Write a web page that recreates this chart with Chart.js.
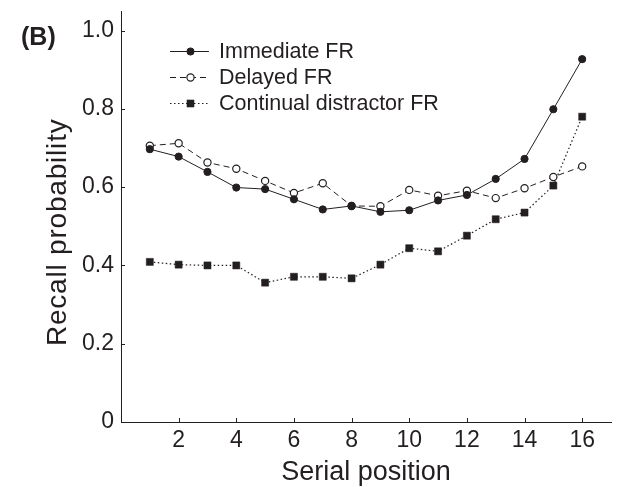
<!DOCTYPE html>
<html>
<head>
<meta charset="utf-8">
<script src="https://cdn.jsdelivr.net/npm/chart.js@4.4.1/dist/chart.umd.min.js"></script>
<style>
  body { margin: 0; background: #fff; }
  #wrap { width: 618px; height: 487px; }
</style>
</head>
<body>
<div id="wrap"><canvas id="myChart" width="618" height="487"></canvas></div>
<script>
// serial positions and recall probabilities
const positions = [1, 2, 3, 4, 5, 6, 7, 8, 9, 10, 11, 12, 13, 14, 15, 16]
const immediateFR = [0.697, 0.678, 0.639, 0.599, 0.595, 0.569, 0.543, 0.552, 0.537, 0.541, 0.566, 0.580, 0.621, 0.672, 0.799, 0.927]
const delayedFR = [0.706, 0.712, 0.663, 0.647, 0.616, 0.585, 0.610, 0.552, 0.551, 0.593, 0.578, 0.591, 0.572, 0.597, 0.626, 0.653]
const continualFR = [0.409, 0.402, 0.400, 0.400, 0.356, 0.371, 0.371, 0.367, 0.402, 0.444, 0.436, 0.476, 0.518, 0.535, 0.604, 0.780]
const seriesNames = ["Immediate FR", "Delayed FR", "Continual distractor FR"]
const xTicks = [2, 4, 6, 8, 10, 12, 14, 16]
const yTicks = [0, 0.2, 0.4, 0.6, 0.8, 1.0]

const ink = "#231f20"
const font = "'Liberation Sans', Arial, sans-serif"

function toPoints(values) {
  return positions.map((p, i) => ({ x: p, y: values[i] }))
}

// marker drawn the same way in the legend
function drawMarker(ctx, ds, x, y) {
  ctx.save()
  ctx.setLineDash([])
  ctx.lineWidth = ds.pointBorderWidth
  ctx.strokeStyle = ds.pointBorderColor
  ctx.fillStyle = ds.pointBackgroundColor
  ctx.beginPath()
  if (ds.pointStyle === "rect") {
    const s = Math.SQRT1_2 * ds.pointRadius
    ctx.rect(x - s, y - s, 2 * s, 2 * s)
  } else {
    ctx.arc(x, y, ds.pointRadius, 0, Math.PI * 2)
  }
  ctx.fill()
  ctx.stroke()
  ctx.restore()
}

const decor = {
  id: "decor",
  afterDraw(chart) {
    const ctx = chart.ctx
    const xs = chart.scales.x
    const ys = chart.scales.y
    const area = chart.chartArea
    ctx.save()
    // inward tick marks
    ctx.strokeStyle = ink
    ctx.lineWidth = 1
    ctx.beginPath()
    xTicks.forEach(t => {
      const px = Math.round(xs.getPixelForValue(t)) + 0.5
      ctx.moveTo(px, area.bottom)
      ctx.lineTo(px, area.bottom - 4)
    })
    yTicks.slice(1).forEach(t => {
      const py = Math.round(ys.getPixelForValue(t)) + 0.5
      ctx.moveTo(area.left, py)
      ctx.lineTo(area.left + 4, py)
    })
    ctx.stroke()

    ctx.fillStyle = ink
    // panel label
    ctx.font = "bold 25px " + font
    ctx.textAlign = "left"
    ctx.textBaseline = "alphabetic"
    ctx.fillText("(B)", 21, 45)

    // axis titles
    ctx.font = "27px " + font
    ctx.textAlign = "center"
    ctx.fillText("Serial position", (area.left + area.right) / 2, 480)
    ctx.save()
    ctx.translate(66, (ys.getPixelForValue(0) + ys.getPixelForValue(1)) / 2 + 6)
    ctx.rotate(-Math.PI / 2)
    ctx.font = "28px " + font
    ctx.letterSpacing = "0.8px"
    ctx.fillText("Recall probability", 0, 0)
    ctx.restore()

    // legend
    ctx.font = "21.5px " + font
    ctx.textAlign = "left"
    ctx.textBaseline = "middle"
    chart.data.datasets.forEach((ds, i) => {
      const y = 51 + i * 26
      ctx.save()
      ctx.strokeStyle = ds.borderColor
      ctx.lineWidth = ds.borderWidth
      ctx.setLineDash(ds.borderDash || [])
      ctx.beginPath()
      ctx.moveTo(170, y + 0.5)
      ctx.lineTo(209, y + 0.5)
      ctx.stroke()
      ctx.restore()
      drawMarker(ctx, ds, 190.5, y + 0.5)
      ctx.fillText(ds.label, 219, y + 1)
    })
    ctx.restore()
  }
}

const ctx = document.getElementById('myChart')
new Chart(ctx, {
  type: 'line',
  data: {
    datasets: [{
      label: seriesNames[0],
      data: toPoints(immediateFR),
      borderColor: ink,
      borderWidth: 1,
      pointStyle: 'circle',
      pointRadius: 3.6,
      pointBorderWidth: 1,
      pointBackgroundColor: ink,
      pointBorderColor: ink
    }, {
      label: seriesNames[1],
      data: toPoints(delayedFR),
      borderColor: ink,
      borderWidth: 1,
      borderDash: [6, 4],
      pointStyle: 'circle',
      pointRadius: 3.6,
      pointBorderWidth: 1.2,
      pointBackgroundColor: '#fff',
      pointBorderColor: ink
    }, {
      label: seriesNames[2],
      data: toPoints(continualFR),
      borderColor: ink,
      borderWidth: 1.2,
      borderDash: [1.5, 2.5],
      pointStyle: 'rect',
      pointRadius: 5,
      pointBorderWidth: 0.5,
      pointBackgroundColor: ink,
      pointBorderColor: ink
    }]
  },
  options: {
    responsive: false,
    animation: false,
    layout: { padding: { left: 0, top: 11, right: 7, bottom: 0 } },
    plugins: {
      legend: { display: false },
      tooltip: { enabled: false }
    },
    scales: {
      x: {
        type: 'linear',
        min: 0,
        max: 17,
        afterBuildTicks: s => { s.ticks = xTicks.map(v => ({ value: v })) },
        afterFit: s => { s.height = 65; s.paddingLeft = 0; s.paddingRight = 0 },
        ticks: { color: ink, font: { family: font, size: 23 }, padding: 5, maxRotation: 0 },
        grid: { display: true, drawOnChartArea: false, drawTicks: false },
        border: { display: true, color: ink, width: 1 }
      },
      y: {
        min: 0,
        max: 1.05,
        afterBuildTicks: s => { s.ticks = yTicks.map(v => ({ value: v })) },
        afterFit: s => { s.width = 121; s.paddingTop = 0; s.paddingBottom = 0 },
        ticks: {
          color: ink, font: { family: font, size: 23 }, padding: 7,
          callback: v => v === 0 ? '0' : v.toFixed(1)
        },
        grid: { display: true, drawOnChartArea: false, drawTicks: false },
        border: { display: true, color: ink, width: 1 }
      }
    }
  },
  plugins: [decor]
})
</script>
</body>
</html>
